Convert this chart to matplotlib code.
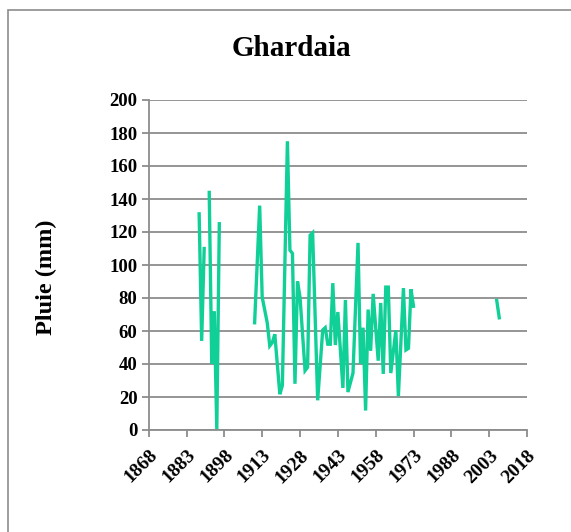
import numpy as np
import matplotlib
matplotlib.use("Agg")
import matplotlib.pyplot as plt
from matplotlib.patches import Rectangle

plt.rcParams['font.family'] = ['Liberation Serif', 'DejaVu Serif']
plt.rcParams['font.weight'] = 'bold'

# annual rainfall at Ghardaia (mm), NaN = no record (breaks the line)
years = [1888, 1889, 1890, 1891, 1892, 1893, 1894, 1895, 1896, 1897,
         1910, 1912, 1913, 1915, 1916, 1917, 1918, 1920, 1921, 1923,
         1924, 1925, 1926, 1927, 1928, 1930, 1931, 1932, 1933, 1935,
         1937, 1938, 1939, 1940, 1941, 1942, 1943, 1945, 1946, 1947,
         1949, 1951, 1952, 1953, 1954, 1955, 1956, 1957, 1959, 1960,
         1961, 1962, 1963, 1964, 1966, 1967, 1969, 1970, 1971, 1972,
         1973, 1974, 2006, 2007]
rain = [131, 54, 110, np.nan, 144, 40, 72, 0.5, 125, np.nan,
        65, 136, 80.5, 65, 51, 53, 58, 21.7, 27, 175,
        109, 107, 28, 90, 80.5, 36, 38, 118, 119.5, 18,
        60.6, 62, 52, 52, 89, 51.5, 71.5, 25.5, 78.8, 23,
        34.5, 113.4, 40, 62, 11.8, 73, 48, 82.5, 42, 77,
        34, 86.6, 86.6, 34.5, 60.5, 20.5, 86, 48.5, 49.5, 85.3,
        75, np.nan, 78.5, 68]

x_ticks = list(range(1868, 2019, 15))
y_ticks = list(range(0, 201, 20))

fig = plt.figure(figsize=(5.71, 5.32), dpi=100)
# chart area frame (only top and left edges fall inside the picture)
fig.patches.append(Rectangle((7.5 / 571, -0.05), 1.1, 1.05 - 9.5 / 532,
                             transform=fig.transFigure, fill=False,
                             edgecolor='#8c8c8c', linewidth=1.2))

ax = fig.add_axes([148.7 / 571, 102 / 532, (527 - 148.7) / 571, 330 / 532])
ax.plot(years, rain, color='#10cf97', linewidth=2.4, solid_joinstyle='miter')

ax.set_xlim(1868, 2018)
ax.set_ylim(0, 200)
ax.set_xticks(x_ticks)
ax.set_yticks(y_ticks)
ax.set_xticklabels([str(t) for t in x_ticks], rotation=45, ha='right',
                   rotation_mode='anchor', fontsize=14, fontweight='bold')
ax.set_yticklabels([str(t) for t in y_ticks], fontsize=13.5, fontweight='bold')
ax.yaxis.grid(True, color='#8c8c8c', linewidth=1.3)
ax.set_axisbelow(True)
for s in ['top', 'right']:
    ax.spines[s].set_visible(False)
for s in ['left', 'bottom']:
    ax.spines[s].set_color('#8c8c8c')
    ax.spines[s].set_linewidth(1.3)
ax.tick_params(axis='both', color='#8c8c8c', width=1.3, length=5, pad=3)
ax.tick_params(axis='x', pad=7)

fig.text(46 / 571, 1 - 277 / 532, 'Pluie (mm)', rotation=90, ha='center', va='center',
         fontsize=17.5, fontweight='bold')
fig.text(291.7 / 571, 1 - 48.5 / 532, 'Ghardaia', ha='center', va='center',
         fontsize=21, fontweight='bold')

fig.savefig('out.png', dpi=100)
